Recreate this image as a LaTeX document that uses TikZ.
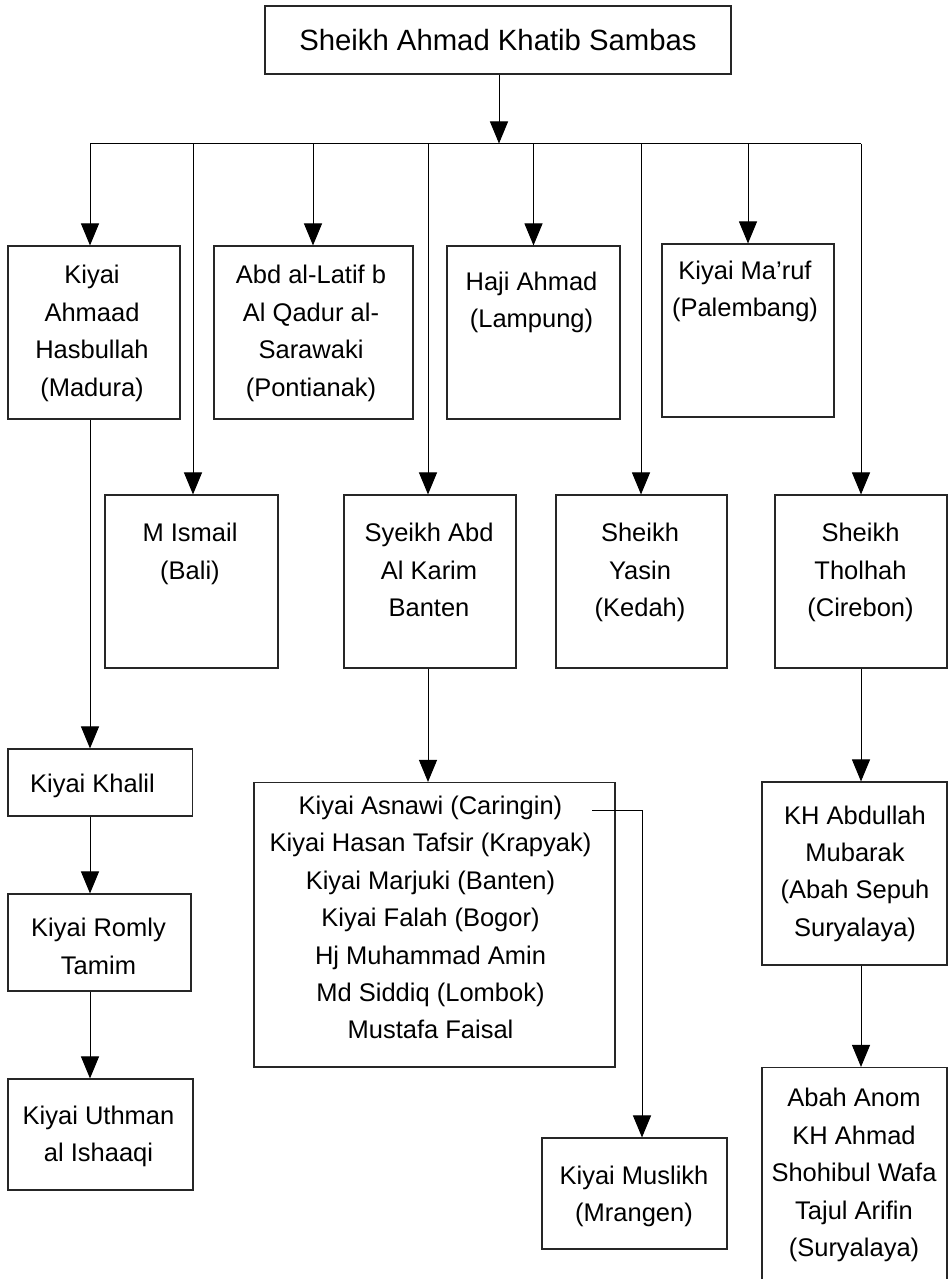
\documentclass[tikz,border=0pt]{standalone}
\usepackage{fontspec}
\setmainfont{Liberation Sans}
\usetikzlibrary{arrows.meta,fit}
\tikzset{
  box/.style={draw=black!85, line width=1.1pt, inner sep=0pt, rectangle},
  txt/.style={align=center, inner sep=0pt, anchor=north,
    font=\fontsize{25.5}{37.4}\selectfont},
  link/.style={draw=black, line width=1pt},
  arr/.style={link, -{Triangle[length=22pt,width=18pt]}},
}
\begin{document}
\begin{tikzpicture}[x=1pt,y=-1pt]
\useasboundingbox (0,0) rectangle (950,1279);
\clip (0,0) rectangle (950,1279);
\fill[white] (0,0) rectangle (950,1279);

% top
\node[box, minimum width=466pt, minimum height=68pt,
      font=\fontsize{29.3}{35}\selectfont] (Top) at (498,40) {Sheikh Ahmad Khatib Sambas};

% boxes
\node[box, fit={(8,246) (180,419)}] (Ahm) {};
\node[box, fit={(214,246) (413,419)}] (Lat) {};
\node[box, fit={(447,246) (620,419)}] (Haj) {};
\node[box, fit={(662,244) (834,417)}] (Maruf) {};
\node[box, fit={(105,495) (278,668)}] (Ism) {};
\node[box, fit={(344,495) (516,668)}] (Kar) {};
\node[box, fit={(556,495) (727,668)}] (Yas) {};
\node[box, fit={(775,495) (947,668)}] (Tho) {};
\node[box, fit={(8,749) (192.5,816)}] (Kha) {};
\node[box, fit={(8,894) (191,991)}] (Rom) {};
\node[box, fit={(8,1079) (193,1190)}] (Uth) {};
\node[box, fit={(254,782.5) (615,1067)}] (Big) {};
\node[box, fit={(762,782) (947,965)}] (Abd) {};
\node[box, fit={(542,1138) (727,1249)}] (Mus) {};
\node[box, fit={(762,1067.5) (947,1300)}] (Anom) {};

% texts
\node[txt] (tAhm) at (92,265.2) {Kiyai\\Ahmaad\\Hasbullah\\(Madura)};
\node[txt] (tLat) at (311,265.2) {Abd al-Latif b\\Al Qadur al-\\Sarawaki\\(Pontianak)};
\node[txt] (tHaj) at (531.5,271.5) {Haji Ahmad\\(Lampung)};
\node[txt] (tMaruf) at (745,260.7) {Kiyai Ma’ruf\\(Palembang)};
\node[txt] (tIsm) at (190,523) {M Ismail\\(Bali)};
\node[txt] (tKar) at (429,523) {Syeikh Abd\\Al Karim\\Banten};
\node[txt] (tYas) at (640,523) {Sheikh\\Yasin\\(Kedah)};
\node[txt] (tTho) at (860.5,523) {Sheikh\\Tholhah\\(Cirebon)};
\node[txt] (tKha) at (92.5,773.5) {Kiyai Khalil};
\node[txt] (tRom) at (98.5,918) {Kiyai Romly\\Tamim};
\node[txt] (tUth) at (98.5,1105.5) {Kiyai Uthman\\al Ishaaqi};
\node[txt] (tBig) at (430.5,795.8) {Kiyai Asnawi (Caringin)\\Kiyai Hasan Tafsir (Krapyak)\\Kiyai Marjuki (Banten)\\Kiyai Falah (Bogor)\\Hj Muhammad Amin\\Md Siddiq (Lombok)\\Mustafa Faisal};
\node[txt] (tAbd) at (855,805.5) {KH Abdullah\\Mubarak\\(Abah Sepuh\\Suryalaya)};
\node[txt] (tMus) at (634,1165.5) {Kiyai Muslikh\\(Mrangen)};
\node[txt] (tAnom) at (854,1088.2) {Abah Anom\\KH Ahmad\\Shohibul Wafa\\Tajul Arifin\\(Suryalaya)};

% columns
\coordinate (bus) at (0,143.5);
\coordinate (cA) at (90,0);
\coordinate (cI) at (193,0);
\coordinate (cL) at (313,0);
\coordinate (cK) at (428,0);
\coordinate (cH) at (533.5,0);
\coordinate (cY) at (641,0);
\coordinate (cM) at (748,0);
\coordinate (cT) at (861,0);
\coordinate (cS) at (642,0);
\coordinate (asn) at (592,810);

% connectors
\draw[arr] (Top.south -| 499,0) -- (499,0 |- bus);
\draw[link] (cA |- bus) -- (cT |- bus);
\draw[arr] (cA |- bus) -- (cA |- Ahm.north);
\draw[arr] (cI |- bus) -- (cI |- Ism.north);
\draw[arr] (cL |- bus) -- (cL |- Lat.north);
\draw[arr] (cK |- bus) -- (cK |- Kar.north);
\draw[arr] (cH |- bus) -- (cH |- Haj.north);
\draw[arr] (cY |- bus) -- (cY |- Yas.north);
\draw[arr] (cM |- bus) -- (cM |- Maruf.north);
\draw[arr] (cT |- bus) -- (cT |- Tho.north);

\draw[arr] (cA |- Ahm.south) -- (cA |- Kha.north);
\draw[arr] (cA |- Kha.south) -- (cA |- Rom.north);
\draw[arr] (cA |- Rom.south) -- (cA |- Uth.north);
\draw[arr] (cK |- Kar.south) -- (cK |- Big.north);
\draw[arr] (asn) -- (cS |- asn) -- (cS |- Mus.north);
\draw[arr] (cT |- Tho.south) -- (cT |- Abd.north);
\draw[arr] (cT |- Abd.south) -- (cT |- Anom.north);
\end{tikzpicture}
\end{document}
